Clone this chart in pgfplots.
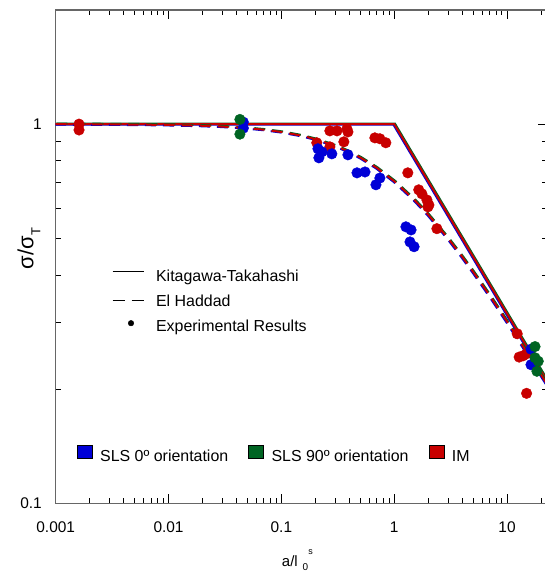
\documentclass[border=0pt]{standalone}
\usepackage{pgfplots}
\usepackage{pgfplotstable}
\pgfplotsset{compat=1.18}
\usepackage{fontspec}
\setmainfont{Liberation Sans}
\definecolor{cblue}{RGB}{0,0,215}
\definecolor{cgreen}{RGB}{0,100,35}
\definecolor{cred}{RGB}{200,0,0}

\pgfplotstableread{
x y
0.001 1
1 1
22.6 0.2104
}\kt
\pgfplotstableread{
x y
0.001 0.9995
0.002 0.9990
0.005 0.9975
0.01 0.9950
0.02 0.9901
0.03 0.9853
0.05 0.9759
0.07 0.9667
0.1 0.9535
0.15 0.9325
0.2 0.9129
0.3 0.8771
0.4 0.8452
0.5 0.8165
0.7 0.7670
1 0.7071
1.5 0.6325
2 0.5774
3 0.5
4 0.4472
5 0.4082
7 0.3536
10 0.3015
15 0.2500
22.6 0.2061
}\eh
\pgfplotstableread{
x y
0.00161 1.000
0.00161 0.965
0.206 0.893
0.269 0.960
0.311 0.960
0.381 0.972
0.389 0.954
0.358 0.898
0.269 0.871
0.674 0.920
0.747 0.915
0.843 0.893
1.32 0.744
1.65 0.671
1.76 0.655
1.95 0.631
2.03 0.612
1.99 0.605
2.39 0.530
12.3 0.280
12.8 0.243
13.9 0.245
14.9 0.248
14.9 0.195
}\red
\pgfplotstableread{
x y
0.046 1.012
0.046 0.976
0.211 0.861
0.229 0.845
0.215 0.815
0.280 0.835
0.389 0.830
0.468 0.744
0.551 0.748
0.689 0.692
0.747 0.721
1.27 0.536
1.41 0.526
1.38 0.489
1.50 0.475
16.3 0.255
16.3 0.232
}\blue
\pgfplotstableread{
x y
0.0429 1.029
0.0429 0.941
17.7 0.259
17.7 0.242
18.9 0.237
18.4 0.223
}\green

\begin{document}
\begin{tikzpicture}
\begin{axis}[
  name=ax,
  scale only axis,
  width=491.3bp, height=493.3bp,
  xmode=log, ymode=log,
  xmin=0.001, xmax=22.6, ymin=0.1, ymax=2,
  xtick={0.001,0.01,0.1,1,10},
  xticklabels={0.001,0.01,0.1,1,10},
  minor xtick={0.002,0.003,0.004,0.005,0.006,0.007,0.008,0.009,
    0.02,0.03,0.04,0.05,0.06,0.07,0.08,0.09,
    0.2,0.3,0.4,0.5,0.6,0.7,0.8,0.9,
    2,3,4,5,6,7,8,9,20},
  ytick={0.1,1},
  yticklabels={0.1,1},
  minor ytick={0.2,0.3,0.4,0.5,0.6,0.7,0.8,0.9},
  tick align=inside,
  major tick length=9bp, minor tick length=5bp,
  tick style={black, line width=0.8bp},
  axis line style={black!60, line width=1.2bp},
  /pgf/number format/assume math mode=true,
  ticklabel style={font=\fontsize{15.5}{18}\selectfont},
  xticklabel style={anchor=north, inner sep=0pt, yshift=-18.4bp},
  yticklabel style={anchor=east, inner sep=0pt, xshift=-13.7bp},
  xlabel={a/l\hspace{5bp}\raisebox{-4bp}{\fontsize{10}{10}\selectfont 0}\raisebox{12bp}{\fontsize{9}{9}\selectfont s}},
  xlabel style={at={([xshift=-4bp,yshift=-62.7bp]axis description cs:0.5,0)}, anchor=base, font=\fontsize{15}{18}\selectfont, inner sep=0pt},
  ylabel={σ/σ\raisebox{-7bp}{\fontsize{13}{13}\selectfont T}},
  ylabel style={at={([xshift=-22.4bp]axis description cs:0,0.5165)}, anchor=base, font=\fontsize{22}{24}\selectfont, inner sep=0pt},
  legend style={draw=none, fill=none, at={(axis description cs:0.114,0.475)}, anchor=north west,
    inner sep=0pt, row sep=9bp, font=\fontsize{16}{19}\selectfont,
    nodes={inner sep=0pt, text height=12bp, text depth=4bp},
    /tikz/every odd column/.append style={column sep=11bp}},
  legend cell align=left,
]
% Kitagawa-Takahashi
\addplot[cblue, line width=2bp, xshift=-0.8bp, yshift=-0.5bp, forget plot] table {\kt};
\addplot[cgreen, line width=2bp, xshift=0.7bp, yshift=0.6bp, forget plot] table {\kt};
\addplot[cred, line width=2bp, forget plot] table {\kt};
% El Haddad
\addplot[cblue, line width=2bp, dash pattern=on 11bp off 7bp, xshift=-0.8bp, yshift=-0.5bp, forget plot] table {\eh};
\addplot[cgreen, line width=2bp, dash pattern=on 11bp off 7bp, xshift=0.7bp, yshift=0.6bp, forget plot] table {\eh};
\addplot[cred, line width=2bp, dash pattern=on 11bp off 7bp, forget plot] table {\eh};
% experimental
\addplot[only marks, mark=*, mark size=5.3bp, cred, forget plot] table {\red};
\addplot[only marks, mark=*, mark size=5.3bp, cblue, forget plot] table {\blue};
\addplot[only marks, mark=*, mark size=5.3bp, cgreen, forget plot] table {\green};
% legend 1
\addlegendimage{legend image code/.code={\draw[black, line width=1.3bp] (0bp,6bp) -- (31.6bp,6bp);}}
\addlegendentry{Kitagawa-Takahashi}
\addlegendimage{legend image code/.code={\draw[black, line width=1.6bp, dash pattern=on 12bp off 7bp] (0bp,1.7bp) -- (31.6bp,1.7bp);}}
\addlegendentry{El Haddad}
\addlegendimage{legend image code/.code={\fill[black] (18.3bp,4bp) circle (2.8bp);}}
\addlegendentry{Experimental Results}
\end{axis}
\begin{axis}[
  scale only axis,
  width=491.3bp, height=493.3bp,
  hide axis, xmin=0, xmax=1, ymin=0, ymax=1,
  legend style={draw=none, fill=none, at={(axis description cs:0.0427,0.1188)}, anchor=north west,
    inner sep=0pt, font=\fontsize{16}{19}\selectfont,
    nodes={inner sep=0pt, text height=12bp, text depth=4bp},
    /tikz/every odd column/.append style={column sep=7.5bp},
    /tikz/every even column/.append style={column sep=20bp}},
  legend columns=3,
]
\addlegendimage{legend image code/.code={\draw[black, line width=0.8bp, fill=cblue] (0bp,-0.5bp) rectangle (15bp,12.5bp);}}
\addlegendentry{SLS 0º orientation}
\addlegendimage{legend image code/.code={\draw[black, line width=0.8bp, fill=cgreen] (0bp,-0.5bp) rectangle (15bp,12.5bp);}}
\addlegendentry{SLS 90º orientation}
\addlegendimage{legend image code/.code={\draw[black, line width=0.8bp, fill=cred] (0bp,-0.5bp) rectangle (15bp,12.5bp);}}
\addlegendentry{IM}
\end{axis}
\pgfresetboundingbox
\path[use as bounding box] ([xshift=-55.7bp,yshift=-71.7bp]ax.south west) rectangle ([xshift=-2bp,yshift=10bp]ax.north east);
\end{tikzpicture}
\end{document}
